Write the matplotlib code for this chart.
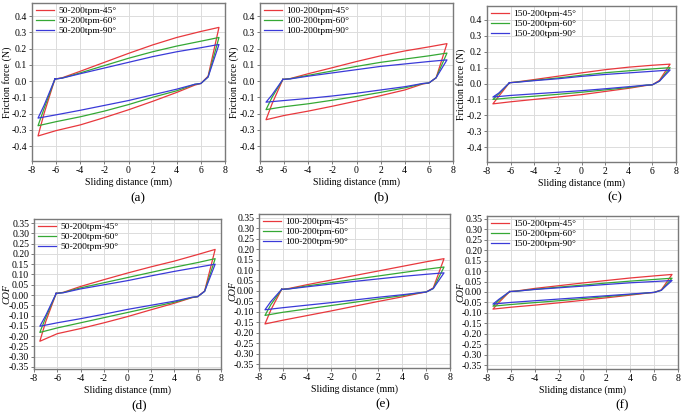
import numpy as np
import matplotlib
matplotlib.use('Agg')
import matplotlib.pyplot as plt

plt.rcParams['font.family'] = ['Liberation Serif', 'DejaVu Serif']
plt.rcParams['axes.unicode_minus'] = False

# Path of one friction loop: top branch -> right reversal -> bottom branch -> left reversal
loop_x = [-6.1, -5.5, -4, -2, 0, 2, 4, 6, 7.5, 6.6, 6.0,
          5.5, 4, 2, 0, -2, -4, -6, -7.5, -7.0, -6.1]

angles = ['45°', '60°', '90°']
speeds = ['50-200tpm', '100-200tpm', '150-200tpm']
colors = ['#e8383d', '#35a835', '#3a3ad8']

# Friction force (N), panels (a)-(c)
force_a = [
    [0.012, 0.02, 0.06, 0.115, 0.17, 0.222, 0.268, 0.305, 0.33, 0.03, -0.015,
     -0.025, -0.07, -0.125, -0.177, -0.225, -0.27, -0.305, -0.338, -0.2, 0.012],
    [0.012, 0.018, 0.05, 0.095, 0.14, 0.18, 0.215, 0.245, 0.268, 0.025, -0.015,
     -0.02, -0.06, -0.1, -0.145, -0.185, -0.22, -0.25, -0.275, -0.17, 0.012],
    [0.012, 0.018, 0.045, 0.08, 0.115, 0.15, 0.18, 0.205, 0.225, 0.025, -0.015,
     -0.02, -0.05, -0.085, -0.12, -0.15, -0.18, -0.208, -0.228, -0.15, 0.012],
]
force_b = [
    [0.01, 0.015, 0.045, 0.082, 0.12, 0.155, 0.185, 0.21, 0.23, 0.02, -0.012,
     -0.018, -0.055, -0.09, -0.123, -0.155, -0.185, -0.212, -0.238, -0.14, 0.01],
    [0.01, 0.014, 0.035, 0.062, 0.09, 0.115, 0.135, 0.155, 0.172, 0.02, -0.012,
     -0.016, -0.042, -0.07, -0.095, -0.118, -0.14, -0.158, -0.176, -0.1, 0.01],
    [0.01, 0.013, 0.03, 0.05, 0.07, 0.09, 0.105, 0.12, 0.13, 0.02, -0.012,
     -0.015, -0.035, -0.055, -0.075, -0.092, -0.107, -0.12, -0.13, -0.085, 0.01],
]
force_c = [
    [0.005, 0.01, 0.025, 0.046, 0.067, 0.087, 0.103, 0.115, 0.122, 0.02, -0.008,
     -0.012, -0.03, -0.05, -0.07, -0.085, -0.1, -0.115, -0.128, -0.08, 0.005],
    [0.005, 0.009, 0.02, 0.035, 0.052, 0.068, 0.08, 0.092, 0.1, 0.015, -0.008,
     -0.01, -0.025, -0.04, -0.055, -0.068, -0.08, -0.09, -0.1, -0.065, 0.005],
    [0.005, 0.008, 0.018, 0.03, 0.045, 0.057, 0.067, 0.077, 0.085, 0.015, -0.008,
     -0.01, -0.02, -0.033, -0.045, -0.055, -0.065, -0.075, -0.085, -0.06, 0.005],
]

# Coefficient of friction, panels (d)-(f)
cof_d = [
    [0.008, 0.013, 0.042, 0.075, 0.107, 0.137, 0.165, 0.197, 0.222, 0.02, -0.008,
     -0.013, -0.04, -0.072, -0.105, -0.135, -0.163, -0.188, -0.225, -0.13, 0.008],
    [0.008, 0.012, 0.035, 0.06, 0.085, 0.11, 0.135, 0.158, 0.177, 0.018, -0.008,
     -0.012, -0.035, -0.06, -0.085, -0.11, -0.135, -0.16, -0.182, -0.11, 0.008],
    [0.008, 0.011, 0.03, 0.05, 0.07, 0.093, 0.115, 0.135, 0.15, 0.018, -0.008,
     -0.011, -0.03, -0.05, -0.07, -0.093, -0.115, -0.135, -0.152, -0.1, 0.008],
]
cof_e = [
    [0.008, 0.012, 0.03, 0.052, 0.074, 0.096, 0.118, 0.14, 0.155, 0.015, -0.005,
     -0.01, -0.028, -0.05, -0.073, -0.096, -0.118, -0.14, -0.158, -0.09, 0.008],
    [0.008, 0.01, 0.024, 0.04, 0.056, 0.072, 0.088, 0.104, 0.115, 0.012, -0.005,
     -0.008, -0.022, -0.038, -0.054, -0.07, -0.086, -0.102, -0.117, -0.065, 0.008],
    [0.008, 0.01, 0.02, 0.033, 0.046, 0.058, 0.07, 0.08, 0.087, 0.012, -0.005,
     -0.008, -0.018, -0.03, -0.043, -0.056, -0.068, -0.08, -0.09, -0.05, 0.008],
]
cof_f = [
    [0.002, 0.005, 0.017, 0.03, 0.043, 0.055, 0.067, 0.077, 0.084, 0.01, -0.002,
     -0.005, -0.015, -0.028, -0.04, -0.052, -0.063, -0.073, -0.082, -0.05, 0.002],
    [0.002, 0.004, 0.013, 0.023, 0.033, 0.043, 0.052, 0.06, 0.066, 0.008, -0.002,
     -0.004, -0.012, -0.022, -0.032, -0.042, -0.051, -0.06, -0.068, -0.04, 0.002],
    [0.002, 0.004, 0.012, 0.02, 0.028, 0.036, 0.044, 0.05, 0.055, 0.008, -0.002,
     -0.004, -0.01, -0.018, -0.026, -0.034, -0.042, -0.05, -0.058, -0.035, 0.002],
]

W, H = 685, 413
fig = plt.figure(figsize=(W / 100, H / 100), dpi=100)

def px_rect(x0, y0, x1, y1):
    return [x0 / W, 1 - y1 / H, (x1 - x0) / W, (y1 - y0) / H]

# axes box (pixels), panel letter position, data, speed, kind, y limits
panels = [
    ((32, 3, 225, 161), (138, 198), force_a, speeds[0], 'force', (-0.492, 0.48)),
    ((260, 3, 453, 161), (381, 197), force_b, speeds[1], 'force', (-0.492, 0.48)),
    ((487, 6, 676, 162), (615, 197), force_c, speeds[2], 'force', (-0.494, 0.488)),
    ((34, 219, 221, 369), (139, 405), cof_d, speeds[0], 'cof', (-0.36, 0.37)),
    ((259, 214, 450, 368), (383, 404), cof_e, speeds[1], 'cof', (-0.369, 0.369)),
    ((487, 216, 678, 369), (622, 405), cof_f, speeds[2], 'cof', (-0.369, 0.364)),
]
letters = ['(a)', '(b)', '(c)', '(d)', '(e)', '(f)']

for (box, lab_pos, data, speed, kind, ylim), letter in zip(panels, letters):
    ax = fig.add_axes(px_rect(*box))
    for ys, ang, col in zip(data, angles, colors):
        ax.plot(loop_x, ys, color=col, lw=0.9, label=speed + '-' + ang)
    ax.set_xlim(-8, 8)
    ax.set_ylim(*ylim)
    ax.set_xticks(np.arange(-8, 9, 2))
    if kind == 'force':
        yt = np.round(np.arange(-0.4, 0.41, 0.1), 2)
        ax.set_yticks(yt)
        ax.set_yticklabels(['%.1f' % v if abs(v) > 1e-9 else '0.0' for v in yt])
        ylabel, ystyle = 'Friction force (N)', 'normal'
    else:
        yt = np.round(np.arange(-0.35, 0.351, 0.05), 2)
        ax.set_yticks(yt)
        ax.set_yticklabels(['%.2f' % v if abs(v) > 1e-9 else '0.00' for v in yt])
        ylabel, ystyle = 'COF', 'italic'
    ax.grid(True, color='#dcdcdc', lw=0.7)
    ax.set_axisbelow(True)
    for sp in ax.spines.values():
        sp.set_color('#7a7a7a')
        sp.set_linewidth(1.0)
    ax.tick_params(direction='out', length=2, width=0.6, color='#666666',
                   labelsize=7, pad=1.5)
    ax.legend(loc='upper left', frameon=False, fontsize=6.8, handlelength=1.9,
              handletextpad=0.5, labelspacing=0.12, borderpad=0.2,
              borderaxespad=0.2)
    cx = (box[0] + box[2]) / 2
    fig.text(cx / W, 1 - (box[3] + 21) / H, 'Sliding distance (mm)',
             ha='center', va='center', fontsize=7)
    ylab_x = 7 if box[0] < 100 else box[0] - 26
    fig.text(ylab_x / W, 1 - ((box[1] + box[3]) / 2) / H, ylabel, rotation=90,
             ha='center', va='center', fontsize=7.2, style=ystyle)
    fig.text(lab_pos[0] / W, 1 - lab_pos[1] / H, letter, ha='center',
             va='center', fontsize=9.5)

fig.savefig('out.png', dpi=100)
